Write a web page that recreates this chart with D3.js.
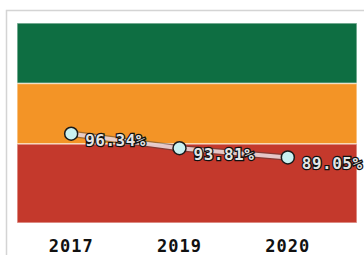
<!DOCTYPE html>
<html>
<head>
<meta charset="utf-8">
<script src="https://cdn.jsdelivr.net/npm/d3@7"></script>
<style>
  body { margin: 0; background: #fff; }
  svg { display: block; }
</style>
</head>
<body>
<div id="chart"></div>
<script>
// chart size
const width = 364;
const height = 255;
const margin = {left: 17, right: 7, top: 23, bottom: 32};

// data
const years = ["2017", "2019", "2020"];
const values = [96.34, 93.81, 89.05];

// coloured bands (thresholds in %)
const bandFrom = [98, 96, 55];
const bandTo = [100, 98, 96];
const bandColors = ["#0e6e42", "#f39426", "#c4392c"];

const svg = d3.select("#chart")
  .append("svg")
  .attr("width", width)
  .attr("height", height);

// light frame round the chart
svg.append("rect")
  .attr("x", 6.5)
  .attr("y", 10.5)
  .attr("width", width + 10)
  .attr("height", height + 10)
  .attr("fill", "none")
  .attr("stroke", "#d4d4d4")
  .attr("stroke-width", 1.5);

// y scale is piecewise so each band gets its own stretch
const yScale = d3.scaleLinear()
  .domain([55, 96, 98, 100])
  .range([height - margin.bottom, 144, 83.5, margin.top]);

const xScale = d3.scaleBand()
  .domain(years)
  .range([margin.left, 342]);

// bands
svg.selectAll(".band")
  .data(bandFrom)
  .enter()
  .append("rect")
    .attr("class", "band")
    .attr("x", margin.left)
    .attr("width", 357 - margin.left)
    .attr("y", (d, i) => yScale(bandTo[i]))
    .attr("height", (d, i) => yScale(d) - yScale(bandTo[i]))
    .attr("fill", (d, i) => bandColors[i])
    .attr("stroke", "rgba(255,255,255,0.55)")
    .attr("stroke-width", 1.5);

// x axis labels
svg.append("g")
  .attr("transform", `translate(0, ${yScale(55)})`)
  .call(d3.axisBottom(xScale).tickSize(0).tickPadding(17))
  .call(g => g.select(".domain").remove())
  .selectAll("text")
    .attr("font-family", "'DejaVu Sans Mono', monospace")
    .attr("font-weight", "bold")
    .attr("font-size", "17px")
    .attr("letter-spacing", "1px")
    .attr("fill", "#111");

const cx = (d, i) => xScale(years[i]) + xScale.bandwidth() / 2;

const line = d3.line()
  .x((d, i) => cx(d, i))
  .y(d => yScale(d));

// line: soft grey edge, pale core
svg.append("path")
  .datum(values)
  .attr("d", line)
  .attr("fill", "none")
  .attr("stroke", "rgba(60,60,60,0.45)")
  .attr("stroke-width", 6.5);

svg.append("path")
  .datum(values)
  .attr("d", line)
  .attr("fill", "none")
  .attr("stroke", "rgba(240,215,215,0.9)")
  .attr("stroke-width", 4);

// points
svg.selectAll(".pt")
  .data(values)
  .enter()
  .append("circle")
    .attr("class", "pt")
    .attr("cx", cx)
    .attr("cy", d => yScale(d))
    .attr("r", 6.5)
    .attr("fill", "#c9f1f1")
    .attr("stroke", "#1a1a1a")
    .attr("stroke-width", 1.5);

// value labels
svg.selectAll(".lbl")
  .data(values)
  .enter()
  .append("text")
    .attr("class", "lbl")
    .attr("x", (d, i) => cx(d, i) + 14)
    .attr("y", d => yScale(d) + 12)
    .attr("font-family", "'DejaVu Sans Mono', monospace")
    .attr("font-weight", "bold")
    .attr("font-size", "16px")
    .attr("letter-spacing", "0.5px")
    .attr("fill", "#e4e4e4")
    .attr("stroke", "#111")
    .attr("stroke-width", 2.5)
    .attr("paint-order", "stroke")
    .text(d => d.toFixed(2) + "%");
</script>
</body>
</html>
